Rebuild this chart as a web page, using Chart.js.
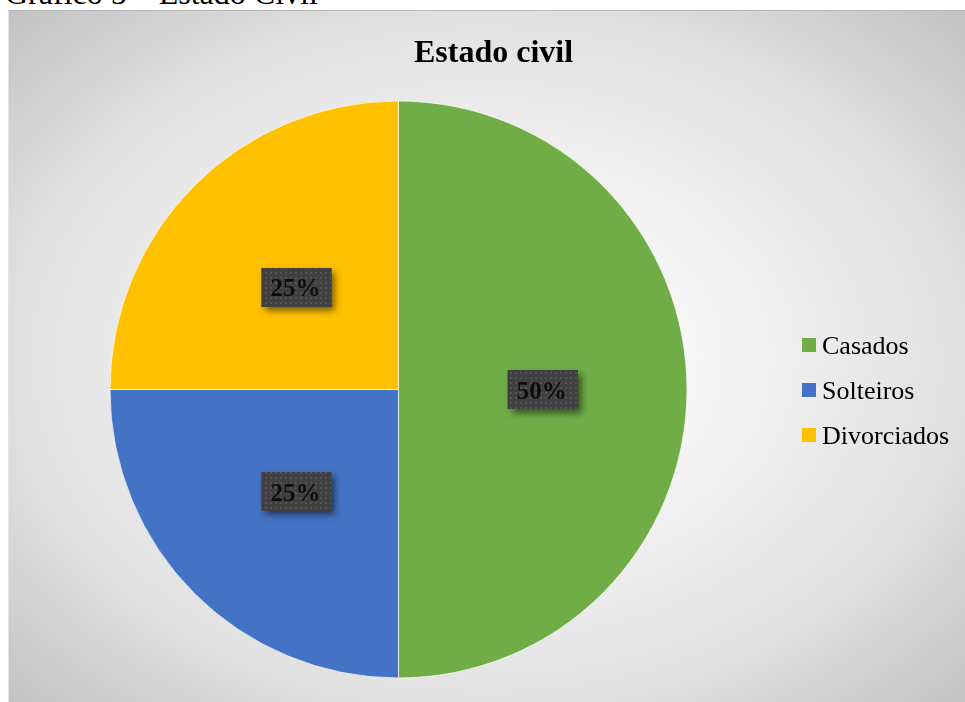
<!DOCTYPE html>
<html>
<head>
<meta charset="utf-8">
<script src="https://cdn.jsdelivr.net/npm/chart.js@4.4.0/dist/chart.umd.min.js"></script>
<style>
  html, body { margin: 0; padding: 0; background: #ffffff; overflow: hidden; }
  body { width: 965px; height: 702px; position: relative; }
  .caption {
    position: absolute; left: 5px; top: -23px;
    font-family: "Liberation Serif", "Times New Roman", serif;
    font-size: 32px; line-height: 32px; color: #000; white-space: nowrap;
  }
  .frame {
    position: absolute; left: 8px; top: 10px; width: 957px; height: 700px;
    background: radial-gradient(ellipse farthest-corner at 50% 50%, #ffffff 0%, #f6f6f6 30%, #e2e2e2 68%, #c2c2c2 100%);
    box-shadow: inset 0 1px 0 #b9b9b9, inset 1px 0 0 #e4e4e4;
  }
  canvas { position: absolute; left: 0; top: 0; }
</style>
</head>
<body>
<div class="caption">Gráfico 5 – Estado Civil</div>
<div class="frame">
  <canvas id="chart" width="957" height="692"></canvas>
</div>
<script>
const title = 'Estado civil';
const categories = ['Casados', 'Solteiros', 'Divorciados'];
const values = [50, 25, 25];
const colors = ['#70AD47', '#4472C4', '#FFC000'];

const SERIF = '"Liberation Serif", "Times New Roman", serif';

// dotted dark fill used behind the data labels
function dotPattern(ctx) {
  const c = document.createElement('canvas');
  c.width = 5; c.height = 5;
  const g = c.getContext('2d');
  g.fillStyle = '#404040';
  g.fillRect(0, 0, 5, 5);
  g.fillStyle = '#535353';
  g.fillRect(2, 2, 2, 2);
  return ctx.createPattern(c, 'repeat');
}

const labelsPlugin = {
  id: 'pieDecor',
  afterDatasetsDraw(chart) {
    const ctx = chart.ctx;
    const meta = chart.getDatasetMeta(0);
    const total = values.reduce((a, b) => a + b, 0);
    const pattern = dotPattern(ctx);

    meta.data.forEach((arc, i) => {
      const pos = arc.tooltipPosition();
      const w = 70, h = 39;
      const x = pos.x - w / 2, y = pos.y - h / 2;
      ctx.save();
      ctx.shadowColor = 'rgba(0,0,0,0.55)';
      ctx.shadowBlur = 7;
      ctx.shadowOffsetX = 4;
      ctx.shadowOffsetY = 4;
      ctx.fillStyle = '#404040';
      ctx.fillRect(x, y, w, h);
      ctx.restore();
      ctx.save();
      ctx.fillStyle = pattern;
      ctx.fillRect(x, y, w, h);
      ctx.font = 'bold 25px ' + SERIF;
      ctx.fillStyle = '#0d0d0d';
      ctx.textAlign = 'center';
      ctx.textBaseline = 'alphabetic';
      const pct = Math.round(chart.data.datasets[0].data[i] / total * 100) + '%';
      ctx.fillText(pct, pos.x - 1, pos.y + 9);
      ctx.restore();
    });
  },
  afterDraw(chart) {
    const ctx = chart.ctx;
    ctx.save();
    // title
    ctx.font = 'bold 32px ' + SERIF;
    ctx.fillStyle = '#000000';
    ctx.textAlign = 'center';
    ctx.textBaseline = 'alphabetic';
    ctx.fillText(title, 485.5, 52);

    // legend
    const ds = chart.data.datasets[0];
    ctx.font = '26px ' + SERIF;
    ctx.textAlign = 'left';
    chart.data.labels.forEach((lab, i) => {
      const cy = 335 + i * 45;
      ctx.fillStyle = ds.backgroundColor[i];
      ctx.fillRect(794, cy - 7, 14, 14);
      ctx.fillStyle = '#000000';
      ctx.fillText(lab, 814, cy + 9);
    });
    ctx.restore();
  }
};

new Chart(document.getElementById('chart'), {
  type: 'pie',
  data: {
    labels: categories,
    datasets: [{
      data: values,
      backgroundColor: colors,
      borderColor: 'rgba(255,255,255,0.7)',
      borderWidth: 1
    }]
  },
  options: {
    responsive: false,
    animation: false,
    radius: 288.5,
    layout: { padding: { left: 0, right: 176, top: 80, bottom: 13 } },
    plugins: {
      legend: { display: false },
      title: { display: false },
      tooltip: { enabled: false }
    }
  },
  plugins: [labelsPlugin]
});
</script>
</body>
</html>
